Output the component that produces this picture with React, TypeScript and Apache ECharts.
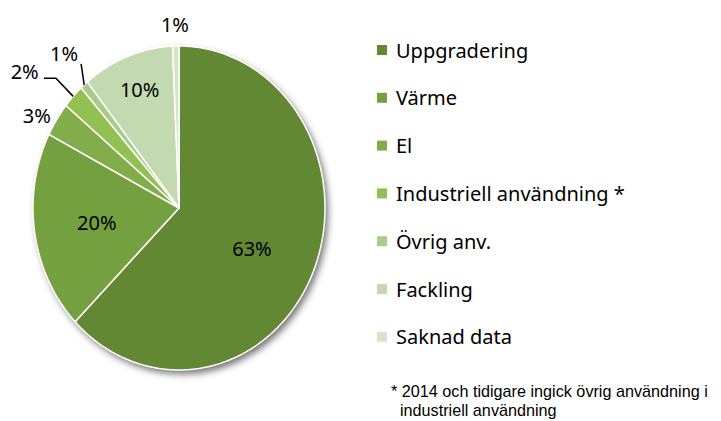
import React, { useEffect, useRef } from "react";
import * as echarts from "echarts";

// ---- Data ----
const categories = [
  "Uppgradering",
  "Värme",
  "El",
  "Industriell användning *",
  "Övrig anv.",
  "Fackling",
  "Saknad data",
];
const shares = [62.6, 19.9, 3.4, 2.4, 0.9, 10.1, 0.7];
const footnoteLines = [
  "* 2014 och tidigare ingick övrig användning i",
  "  industriell användning",
];

// ---- Styles / layout ----
const colors = ["#628834", "#75a03f", "#82ad4a", "#93c053", "#a9cc8b", "#c3dab0", "#d6e5ca"];
// label placement: [radius fraction, angle offset in degrees]
const labelPlace: [number, number][] = [
  [0.56, 4.1],
  [0.57, 0],
  [1.13, -2.6],
  [1.35, -5.1],
  [1.235, 0.9],
  [0.78, 0.5],
  [1.13, -0.15],
];
const leaders: ([number, number][] | null)[] = [
  null,
  null,
  null,
  [[1.0, 0], [1.163, 0], [1.224, -2.7]],
  [[1.0, 0], [1.114, 3.5]],
  null,
  null,
];
const CX = 179;
const CY = 208;
const RX = 146;
const RY = 162;

function pt(angleDeg: number, r: number): [number, number] {
  const a = (angleDeg * Math.PI) / 180;
  return [CX + RX * r * Math.sin(a), CY - RY * r * Math.cos(a)];
}

export default function App() {
  const ref = useRef<HTMLDivElement>(null);
  useEffect(() => {
    if (!ref.current) return;
    const chart = echarts.init(ref.current, null, { renderer: "svg" });
    const total = shares.reduce((a, b) => a + b, 0);

    const series = categories.map((name, i) => ({
      type: "custom",
      name,
      coordinateSystem: "none",
      itemStyle: { color: colors[i] },
      data: [[shares[i]]],
      renderItem: (params: any, api: any) => {
        const before = shares.slice(0, i).reduce((a, b) => a + b, 0);
        const v = api.value(0);
        const a0 = (before / total) * 360;
        const a1 = ((before + v) / total) * 360;
        const pts: [number, number][] = [[CX, CY]];
        const steps = Math.max(2, Math.ceil(a1 - a0));
        for (let k = 0; k <= steps; k++) {
          pts.push(pt(a0 + ((a1 - a0) * k) / steps, 1));
        }
        const children: any[] = [];
        if (i === 0) {
          children.push({
            type: "ellipse",
            shape: { cx: CX, cy: CY, rx: RX, ry: RY },
            style: {
              fill: "#ffffff",
              shadowBlur: 7,
              shadowColor: "rgba(0,0,0,0.55)",
              shadowOffsetX: 3,
              shadowOffsetY: 4,
            },
          });
        }
        children.push({
          type: "polygon",
          shape: { points: pts },
          style: {
            fill: colors[i],
            stroke: "#ffffff",
            lineWidth: 1.5,
            lineJoin: "round",
          },
        });
        const mid = (a0 + a1) / 2;
        const lp = pt(mid + labelPlace[i][1], labelPlace[i][0]);
        const ld = leaders[i];
        if (ld) {
          children.push({
            type: "polyline",
            shape: { points: ld.map(([r, da]) => pt(mid + da, r)) },
            style: { stroke: "#000000", lineWidth: 1.5, fill: null },
          });
        }
        children.push({
          type: "text",
          x: lp[0],
          y: lp[1],
          style: {
            text: Math.round(v) + "%",
            fill: "#000000",
            fontSize: 20,
            fontFamily: "Noto Sans",
            align: "center",
            verticalAlign: "middle",
          },
        });
        return { type: "group", children };
      },
    }));

    chart.setOption({
      animation: false,
      backgroundColor: "#ffffff",
      legend: {
        orient: "vertical",
        left: 377,
        top: 40,
        padding: 0,
        icon: "rect",
        itemWidth: 10,
        itemHeight: 10,
        itemGap: 27.8,
        selectedMode: false,
        textStyle: {
          fontSize: 20,
          fontFamily: "Noto Sans",
          color: "#000000",
          lineHeight: 20,
          padding: [0, 0, 0, 4],
        },
        data: categories.map((name, i) => ({ name, itemStyle: { color: colors[i] } })),
      },
      graphic: [
        {
          type: "text",
          left: 391,
          top: 381,
          style: {
            text: footnoteLines.join("\n"),
            fill: "#000000",
            font: '16.2px "Liberation Sans"',
            lineHeight: 19,
          },
        },
      ],
      series,
    });
    return () => chart.dispose();
  }, []);
  return (
    <div
      ref={ref}
      style={{ position: "fixed", left: 0, top: 0, width: 721, height: 421 }}
    />
  );
}
